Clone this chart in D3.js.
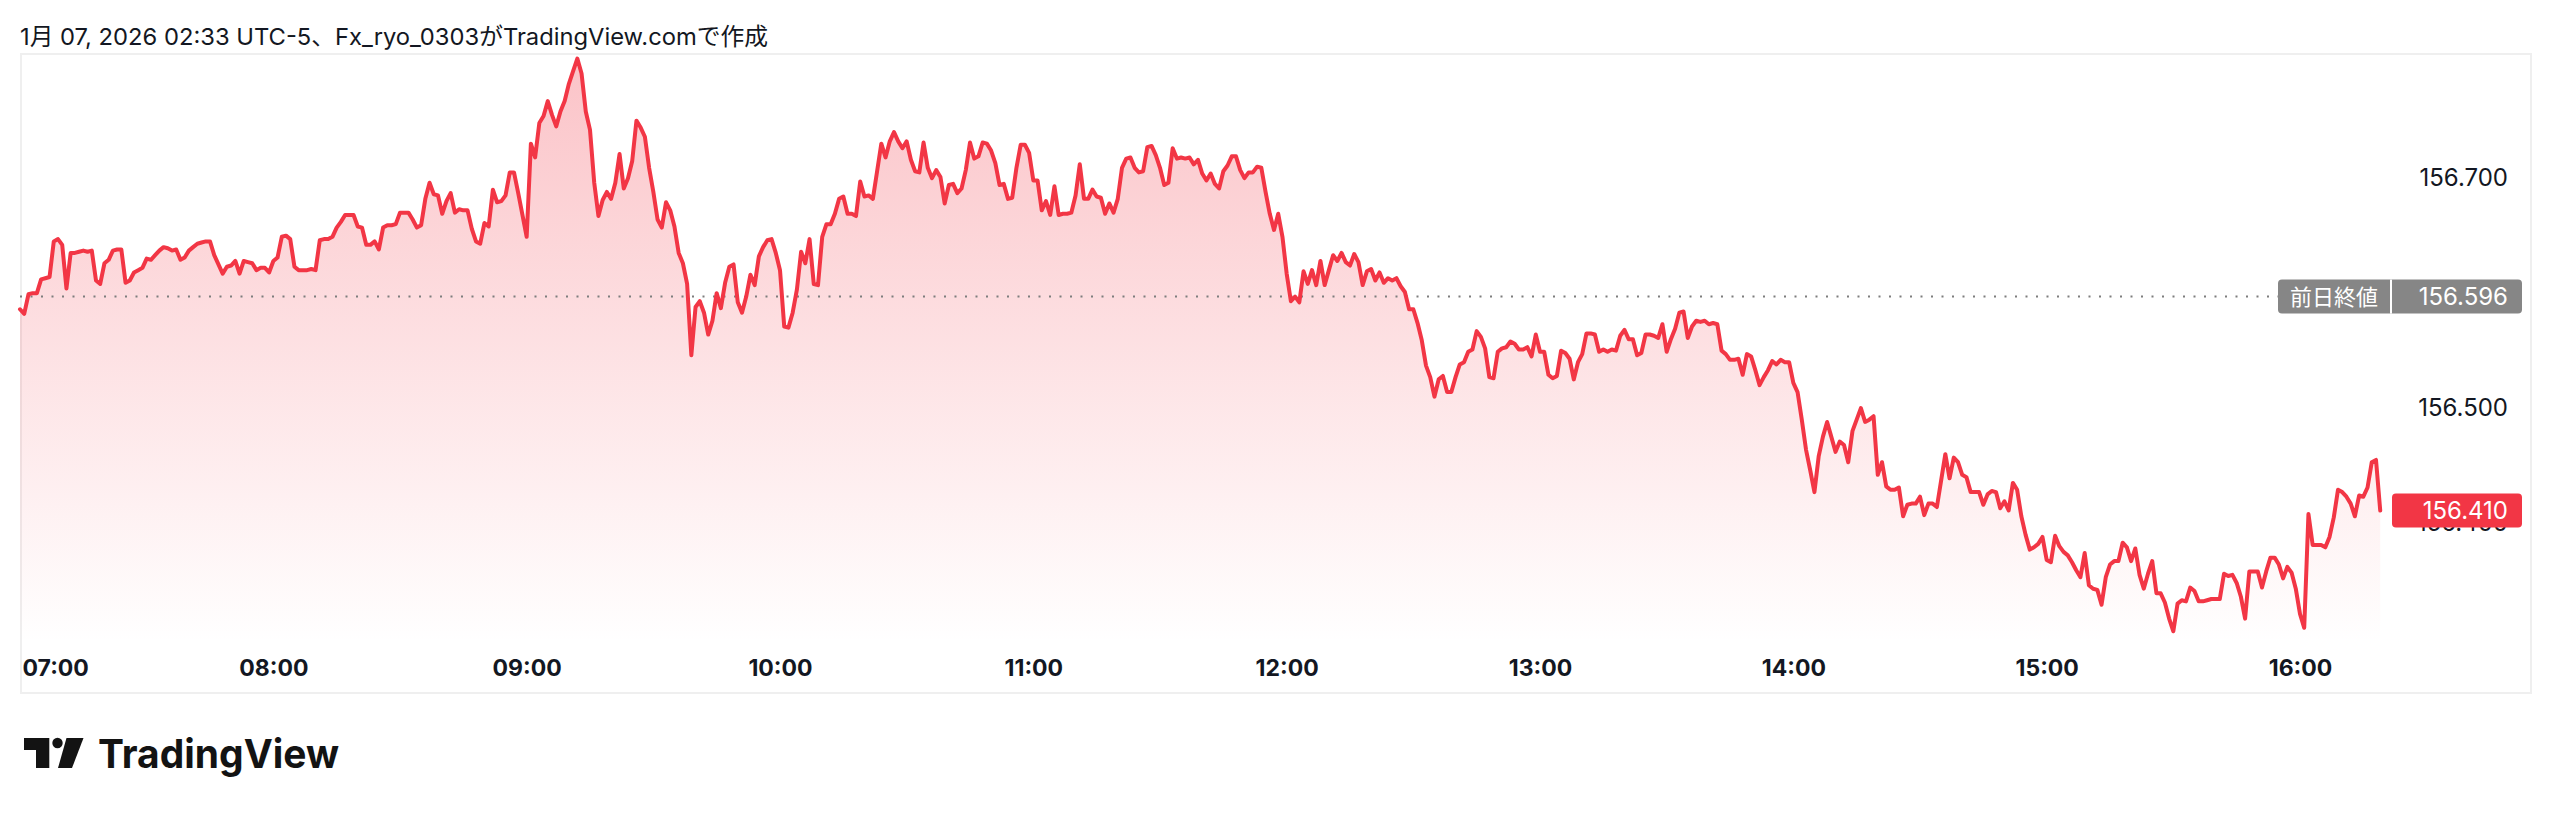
<!DOCTYPE html>
<html><head><meta charset="utf-8">
<script src="https://cdn.jsdelivr.net/npm/d3@7"></script>
<style>html,body{margin:0;padding:0;background:#fff;} svg{display:block;}</style>
</head><body>
<svg id="c" width="2552" height="814"></svg>
<script>
const titleText = "1月 07, 2026 02:33 UTC-5、Fx_ryo_0303がTradingView.comで作成";
const brandText = "TradingView";
// 1-minute closes, one array per hour (USD/JPY)
const h07 = [156.585,156.581,156.598,156.599,156.599,156.611,156.612,156.613,156.644,156.646,156.641,156.603,156.634,156.634,156.635,156.636,156.635,156.636,156.610,156.607,156.625,156.628,156.636,156.637,156.637,156.608,156.610,156.617,156.619,156.621,156.629,156.628,156.632,156.636,156.639,156.638,156.636,156.637,156.628,156.630,156.636,156.639,156.642,156.643,156.644,156.644,156.632,156.624,156.616,156.622,156.623,156.627,156.616,156.627,156.626,156.625,156.619,156.621,156.621,156.617];
const h08 = [156.627,156.630,156.648,156.649,156.646,156.622,156.619,156.619,156.619,156.620,156.619,156.645,156.646,156.646,156.648,156.656,156.661,156.667,156.667,156.667,156.657,156.656,156.641,156.641,156.644,156.637,156.656,156.658,156.658,156.659,156.669,156.669,156.669,156.663,156.656,156.658,156.681,156.695,156.685,156.684,156.668,156.679,156.686,156.669,156.672,156.671,156.671,156.655,156.644,156.642,156.660,156.657,156.689,156.678,156.679,156.684,156.704,156.704,156.686,156.667];
const h09 = [156.648,156.729,156.717,156.747,156.753,156.766,156.754,156.744,156.757,156.766,156.781,156.792,156.803,156.790,156.757,156.741,156.695,156.666,156.680,156.687,156.681,156.695,156.720,156.690,156.699,156.714,156.749,156.743,156.735,156.708,156.687,156.663,156.656,156.678,156.671,156.657,156.634,156.625,156.607,156.545,156.587,156.592,156.582,156.563,156.575,156.599,156.586,156.608,156.622,156.624,156.591,156.582,156.596,156.615,156.606,156.631,156.639,156.645,156.646,156.634];
const h10 = [156.619,156.570,156.569,156.582,156.602,156.635,156.625,156.646,156.607,156.606,156.648,156.659,156.659,156.668,156.681,156.683,156.668,156.668,156.666,156.696,156.683,156.684,156.681,156.705,156.729,156.717,156.731,156.739,156.731,156.725,156.731,156.715,156.705,156.704,156.730,156.708,156.699,156.706,156.700,156.677,156.693,156.694,156.686,156.690,156.706,156.730,156.716,156.718,156.730,156.729,156.723,156.712,156.693,156.694,156.681,156.682,156.708,156.728,156.728,156.721];
const h11 = [156.697,156.697,156.671,156.679,156.667,156.692,156.667,156.668,156.668,156.669,156.684,156.711,156.681,156.681,156.689,156.683,156.682,156.668,156.677,156.669,156.681,156.708,156.716,156.717,156.708,156.704,156.705,156.726,156.727,156.719,156.708,156.693,156.695,156.725,156.716,156.717,156.716,156.717,156.711,156.715,156.703,156.697,156.703,156.694,156.690,156.705,156.710,156.718,156.718,156.706,156.699,156.704,156.704,156.709,156.708,156.687,156.668,156.654,156.668,156.648];
const h12 = [156.616,156.592,156.596,156.591,156.618,156.607,156.619,156.606,156.627,156.606,156.619,156.632,156.627,156.634,156.626,156.623,156.633,156.626,156.606,156.618,156.620,156.610,156.617,156.608,156.612,156.610,156.612,156.605,156.600,156.585,156.585,156.573,156.558,156.536,156.526,156.509,156.524,156.527,156.513,156.513,156.526,156.537,156.539,156.548,156.550,156.566,156.561,156.551,156.526,156.525,156.548,156.551,156.552,156.557,156.555,156.550,156.550,156.552,156.544,156.563];
const h13 = [156.548,156.548,156.528,156.525,156.527,156.549,156.547,156.542,156.524,156.539,156.546,156.564,156.564,156.563,156.548,156.550,156.548,156.550,156.549,156.562,156.567,156.559,156.559,156.545,156.547,156.563,156.563,156.562,156.560,156.572,156.548,156.559,156.568,156.582,156.583,156.560,156.570,156.575,156.574,156.575,156.572,156.573,156.572,156.549,156.546,156.541,156.541,156.542,156.528,156.546,156.544,156.532,156.519,156.526,156.532,156.540,156.537,156.541,156.539,156.539];
const h14 = [156.521,156.513,156.489,156.463,156.445,156.426,156.457,156.474,156.487,156.474,156.461,156.470,156.467,156.452,156.479,156.489,156.499,156.487,156.489,156.492,156.441,156.452,156.431,156.428,156.428,156.430,156.405,156.415,156.416,156.416,156.422,156.406,156.416,156.416,156.413,156.436,156.459,156.438,156.456,156.452,156.441,156.439,156.426,156.426,156.426,156.415,156.424,156.427,156.426,156.412,156.418,156.410,156.434,156.428,156.405,156.389,156.376,156.378,156.381,156.387];
const h15 = [156.367,156.365,156.388,156.379,156.374,156.371,156.365,156.358,156.352,156.373,156.345,156.342,156.341,156.328,156.352,156.363,156.366,156.366,156.382,156.378,156.366,156.377,156.354,156.342,156.355,156.366,156.338,156.338,156.330,156.316,156.305,156.329,156.332,156.331,156.343,156.340,156.331,156.331,156.332,156.333,156.333,156.333,156.355,156.353,156.354,156.347,156.335,156.316,156.357,156.357,156.357,156.343,156.357,156.369,156.369,156.363,156.351,156.361,156.356,156.342];
const h16 = [156.320,156.308,156.407,156.380,156.380,156.380,156.378,156.387,156.404,156.428,156.426,156.422,156.416,156.405,156.423,156.422,156.430,156.452,156.454,156.410];
const hourBlocks = [h07,h08,h09,h10,h11,h12,h13,h14,h15,h16];
const timeTicks = ["07:00","08:00","09:00","10:00","11:00","12:00","13:00","14:00","15:00","16:00"];
const priceTicks = [156.400,156.500,156.600,156.700];
const prevClose = 156.596;
const prevCloseLabel = "前日終値";

const FONT = "Inter, 'Noto Sans CJK JP', sans-serif";
const RED = "#F23645";
const INK = "#131722";

const t0 = new Date(2026,0,7,7,0);
const data = [];
hourBlocks.forEach((arr,h)=>arr.forEach((v,i)=>data.push({t:new Date(t0.getTime()+(h*60+i)*60000), v})));
const tickDates = timeTicks.map(s=>{const [hh,mm]=s.split(":").map(Number);return new Date(2026,0,7,hh,mm);});

const x = d3.scaleTime().domain([tickDates[0], tickDates[tickDates.length-1]]).range([20, 2300]);
const y = d3.scaleLinear().domain([156.4,156.7]).range([522,177]);
const paneBottom = 643;

const svg = d3.select("#c");
svg.append("rect").attr("width",2552).attr("height",814).attr("fill","#fff");

// title
svg.append("text").attr("x",20).attr("y",45).attr("font-family",FONT).attr("font-size",23.5)
  .attr("fill",INK).attr("textLength",748).attr("lengthAdjust","spacingAndGlyphs").text(titleText);

// frame
svg.append("rect").attr("x",21).attr("y",54).attr("width",2510).attr("height",639)
  .attr("fill","none").attr("stroke","#efefef").attr("stroke-width",2);

// gradient
const defs = svg.append("defs");
const g = defs.append("linearGradient").attr("id","fillg").attr("gradientUnits","userSpaceOnUse")
  .attr("x1",0).attr("x2",0).attr("y1",53).attr("y2",paneBottom);
g.append("stop").attr("offset","0").attr("stop-color",RED).attr("stop-opacity",0.3);
g.append("stop").attr("offset","1").attr("stop-color",RED).attr("stop-opacity",0.0);

const area = d3.area().x(d=>x(d.t)).y0(paneBottom).y1(d=>y(d.v));
svg.append("path").datum(data).attr("d",area).attr("fill","url(#fillg)");

// previous close dotted line
svg.append("line").attr("x1",20).attr("x2",2278).attr("y1",y(prevClose)).attr("y2",y(prevClose))
  .attr("stroke","#7d7d7d").attr("stroke-width",2).attr("stroke-dasharray","2 8.5");

const line = d3.line().x(d=>x(d.t)).y(d=>y(d.v));
svg.append("path").datum(data).attr("d",line).attr("fill","none").attr("stroke",RED)
  .attr("stroke-width",4).attr("stroke-linejoin","round").attr("stroke-linecap","round");

// x axis
const xa = svg.append("g").call(d3.axisBottom(x).tickValues(tickDates).tickFormat(d3.timeFormat("%H:%M")).tickSize(0));
xa.select(".domain").remove();
xa.selectAll("text").attr("y",676).attr("dy",0).attr("font-family",FONT).attr("font-size",23)
  .attr("font-weight",700).attr("fill",INK);
xa.selectAll(".tick").each(function(d){
  const t = d3.select(this).select("text");
  const w = t.node().getComputedTextLength();
  const px = x(d);
  if (px - w/2 < 22) t.attr("x", 22 + w/2 - px);
});

// y axis
const ya = svg.append("g").attr("transform","translate(2508,0)")
  .call(d3.axisRight(y).tickValues(priceTicks).tickFormat(d3.format(".3f")).tickSize(0));
ya.select(".domain").remove();
ya.selectAll("text").attr("x",0).attr("text-anchor","end").attr("dy","0.34em")
  .attr("font-family",FONT).attr("font-size",24).attr("fill",INK);

// prev close label
const pcY = y(prevClose);
svg.append("rect").attr("x",2278).attr("y",pcY-17).attr("width",244).attr("height",34).attr("rx",4)
  .attr("fill","#868686");
svg.append("rect").attr("x",2390).attr("y",pcY-17).attr("width",2).attr("height",34).attr("fill","#fff");
svg.append("text").attr("x",2334).attr("y",pcY).attr("dy","0.36em").attr("text-anchor","middle")
  .attr("font-family","'Noto Sans CJK JP', sans-serif").attr("font-size",22).attr("fill","#fff").text(prevCloseLabel);
svg.append("text").attr("x",2508).attr("y",pcY).attr("dy","0.34em").attr("text-anchor","end")
  .attr("font-family",FONT).attr("font-size",24).attr("fill","#fff").text(d3.format(".3f")(prevClose));

// last price label
const last = data[data.length-1];
const lY = y(last.v);
svg.append("rect").attr("x",2392).attr("y",lY-17).attr("width",130).attr("height",34).attr("rx",4).attr("fill",RED);
svg.append("text").attr("x",2508).attr("y",lY).attr("dy","0.34em").attr("text-anchor","end")
  .attr("font-family",FONT).attr("font-size",24).attr("fill","#fff").text(d3.format(".3f")(last.v));

// logo
const logo = svg.append("g").attr("fill","#131313");
logo.append("path").attr("d","M24,738 H49.3 V768 H36 V750 H24 Z");
logo.append("circle").attr("cx",57.5).attr("cy",743).attr("r",5.2);
logo.append("path").attr("d","M66.5,738 H83.5 L72,768 H58 Z");
logo.append("text").attr("x",98).attr("y",768).attr("font-family",FONT).attr("font-size",40)
  .attr("font-weight",700).attr("textLength",241).attr("lengthAdjust","spacingAndGlyphs").text(brandText);
</script>
</body></html>
